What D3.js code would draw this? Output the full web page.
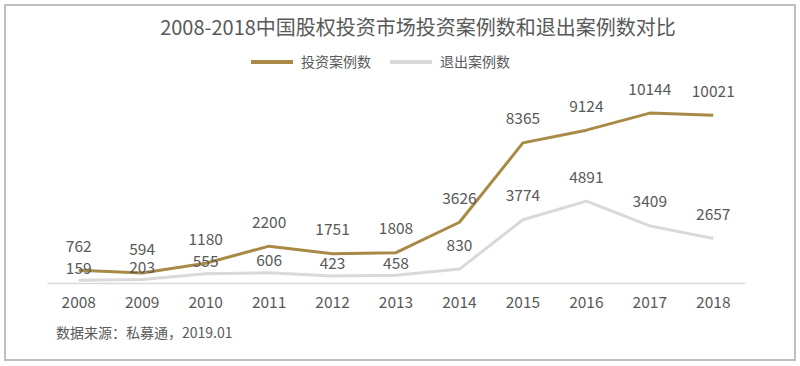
<!DOCTYPE html>
<html>
<head>
<meta charset="utf-8">
<script src="https://cdn.jsdelivr.net/npm/d3@7/dist/d3.min.js"></script>
<style>
  html, body { margin: 0; padding: 0; background: #fff; }
  svg { display: block; font-family: "Noto Sans CJK SC", "Noto Sans", sans-serif; }
</style>
</head>
<body>
<svg id="chart" width="800" height="366"></svg>
<script>
const years = ["2008","2009","2010","2011","2012","2013","2014","2015","2016","2017","2018"];
const investCases = [762, 594, 1180, 2200, 1751, 1808, 3626, 8365, 9124, 10144, 10021];
const exitCases = [159, 203, 555, 606, 423, 458, 830, 3774, 4891, 3409, 2657];
const seriesNames = ["投资案例数", "退出案例数"];
const titleText = "2008-2018中国股权投资市场投资案例数和退出案例数对比";
const sourceText = "数据来源：私募通，2019.01";

const gold = "#a88a46";
const grey = "#d9d9d9";
const textColor = "#595959";

const svg = d3.select("#chart");

// border
svg.append("rect")
  .attr("x", 5).attr("y", 5).attr("width", 790).attr("height", 355)
  .attr("fill", "#fff").attr("stroke", "#bfbfbf").attr("stroke-width", 2);

const x = d3.scaleBand().domain(years).range([47, 745]);
const cx = d => x(d) + x.bandwidth() / 2;
const y = d3.scaleLinear().domain([0, 12000]).range([283, 82]);

// title
svg.append("text")
  .attr("x", 418).attr("y", 35)
  .attr("text-anchor", "middle")
  .attr("font-size", 20)
  .attr("fill", textColor)
  .text(titleText);

// legend
const legend = [
  {name: seriesNames[0], color: gold, x: 251},
  {name: seriesNames[1], color: grey, x: 390}
];
legend.forEach(l => {
  svg.append("line")
    .attr("x1", l.x).attr("x2", l.x + 42)
    .attr("y1", 62).attr("y2", 62)
    .attr("stroke", l.color).attr("stroke-width", 4);
  svg.append("text")
    .attr("x", l.x + 50).attr("y", 67)
    .attr("font-size", 14)
    .attr("fill", textColor)
    .text(l.name);
});

// baseline axis
const axis = d3.axisBottom(x).tickSize(0).tickPadding(14);
const gAxis = svg.append("g")
  .attr("transform", "translate(0,283)")
  .call(axis);
gAxis.select(".domain").attr("stroke", "#d9d9d9").attr("stroke-width", 1.5);
gAxis.selectAll("text")
  .attr("font-size", 15.5)
  .attr("fill", textColor)
  .attr("font-family", "\"Noto Sans CJK SC\", sans-serif");

const line = d3.line()
  .x((d, i) => cx(years[i]))
  .y(d => y(d))
  .curve(d3.curveLinear);

svg.append("path")
  .datum(exitCases)
  .attr("d", line)
  .attr("fill", "none")
  .attr("stroke", grey)
  .attr("stroke-width", 3)
  .attr("stroke-linejoin", "round");

svg.append("path")
  .datum(investCases)
  .attr("d", line)
  .attr("fill", "none")
  .attr("stroke", gold)
  .attr("stroke-width", 3)
  .attr("stroke-linejoin", "round");

// data labels
function labels(data, offsetFn) {
  svg.append("g").selectAll("text")
    .data(data)
    .join("text")
    .attr("x", (d, i) => cx(years[i]))
    .attr("y", (d, i) => y(d) - offsetFn(d) + 5.5)
    .attr("text-anchor", "middle")
    .attr("font-size", 15.5)
    .attr("fill", textColor)
    .text(d => d);
}
labels(investCases, () => 24);
labels(exitCases, d => d < 700 ? 12 : 24);

// source
svg.append("text")
  .attr("x", 56).attr("y", 338)
  .attr("font-size", 14)
  .attr("fill", textColor)
  .text(sourceText);
</script>
</body>
</html>
